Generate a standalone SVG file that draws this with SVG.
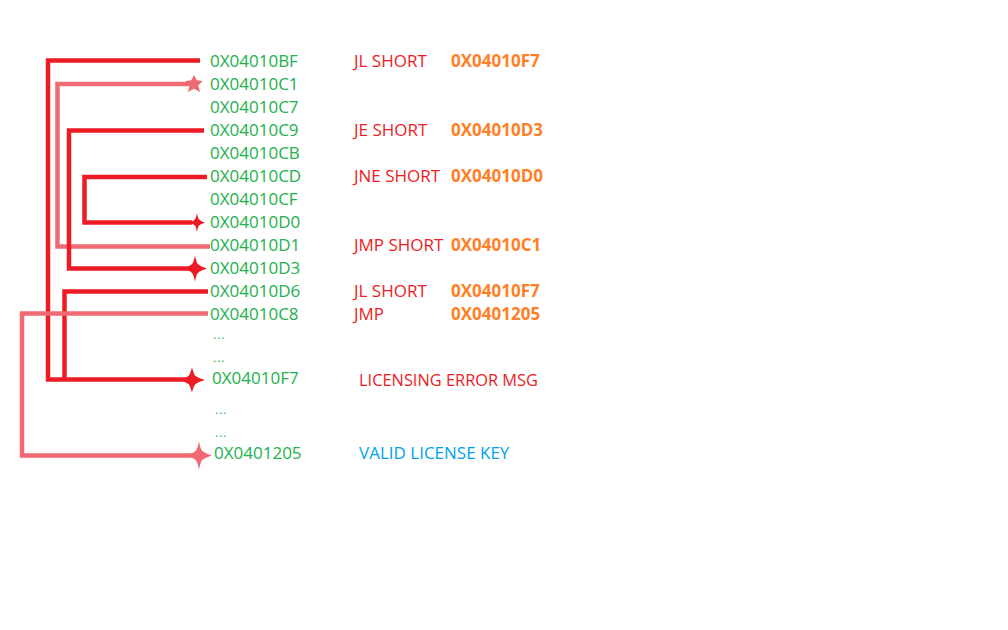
<svg xmlns="http://www.w3.org/2000/svg" width="1008" height="630" viewBox="0 0 1008 630">
<style>
.t{font-family:"Open Sans","Liberation Sans",sans-serif;font-size:17px}
.dots{font-size:12px;letter-spacing:1px}
.addr{fill:#22B14C}
.op{fill:#ED1C24}
.tg{fill:#FF7F27;font-weight:bold}
.ok{fill:#00A2E8}
.red{fill:none;stroke:#ED1C24;stroke-width:4.5;stroke-linejoin:miter}
.pink{fill:none;stroke:#F06A74;stroke-width:4.5;stroke-linejoin:miter}
.sr{fill:#ED1C24}
.sp{fill:#F06A74}
</style>
<defs>
<path id="spark" d="M0,-1 C0.12,-0.5 0.2,-0.35 0.3,-0.3 C0.4,-0.22 0.55,-0.14 1,0 C0.55,0.14 0.4,0.22 0.3,0.3 C0.2,0.35 0.12,0.5 0,1 C-0.12,0.5 -0.2,0.35 -0.3,0.3 C-0.4,0.22 -0.55,0.14 -1,0 C-0.55,-0.14 -0.4,-0.22 -0.3,-0.3 C-0.2,-0.35 -0.12,-0.5 0,-1Z"/>
</defs>
<rect width="1008" height="630" fill="#FFFFFF"/>
<g id="connectors">
<path class="red" d="M200,60.5 H48 V379.5 H188"/>
<path class="pink" d="M190,84 H57.5 V246.5 H210"/>
<path class="red" d="M204,130.5 H69 V268.5 H190"/>
<path class="red" d="M207,177 H84.5 V222.5 H192"/>
<path class="red" d="M208,291.5 H64.5 V379.5"/>
<path class="pink" d="M208,313.5 H22 V455.5 H194"/>
<use href="#spark" class="sr" transform="translate(197,222.5) scale(8,9.5)"/>
<use href="#spark" class="sr" transform="translate(195,268.5) scale(12,13)"/>
<use href="#spark" class="sr" transform="translate(192,380) scale(13,13)"/>
<use href="#spark" class="sp" transform="translate(199,455.5) scale(13,14)"/>
<polygon class="sp" points="194,75 196.8,80.3 202.5,81 198.3,85.5 200,92 194,88.8 188,92 189.7,85.5 185.5,81 191.2,80.3"/>
</g>
<g id="addresses" class="t addr">
<text x="210" y="67">0X04010BF</text>
<text x="210" y="90">0X04010C1</text>
<text x="210" y="113">0X04010C7</text>
<text x="210" y="136">0X04010C9</text>
<text x="210" y="159">0X04010CB</text>
<text x="210" y="182">0X04010CD</text>
<text x="210" y="205">0X04010CF</text>
<text x="210" y="228">0X04010D0</text>
<text x="210" y="251">0X04010D1</text>
<text x="210" y="274">0X04010D3</text>
<text x="210" y="297">0X04010D6</text>
<text x="210" y="320">0X04010C8</text>
<text class="dots" x="213" y="339">...</text>
<text class="dots" x="213" y="362">...</text>
<text x="212" y="384">0X04010F7</text>
<text class="dots" x="215" y="414">...</text>
<text class="dots" x="215" y="437">...</text>
<text x="214" y="459">0X0401205</text>
</g>
<g id="instructions" class="t">
<text class="op" x="354" y="67">JL SHORT</text>
<text class="tg" x="451" y="67">0X04010F7</text>
<text class="op" x="354" y="136">JE SHORT</text>
<text class="tg" x="451" y="136">0X04010D3</text>
<text class="op" x="354" y="182">JNE SHORT</text>
<text class="tg" x="451" y="182">0X04010D0</text>
<text class="op" x="354" y="251">JMP SHORT</text>
<text class="tg" x="451" y="251">0X04010C1</text>
<text class="op" x="354" y="297">JL SHORT</text>
<text class="tg" x="451" y="297">0X04010F7</text>
<text class="op" x="354" y="320">JMP</text>
<text class="tg" x="451" y="320">0X0401205</text>
<text class="op" x="359" y="386" textLength="179" lengthAdjust="spacingAndGlyphs">LICENSING ERROR MSG</text>
<text class="ok" x="359" y="459">VALID LICENSE KEY</text>
</g>
</svg>
